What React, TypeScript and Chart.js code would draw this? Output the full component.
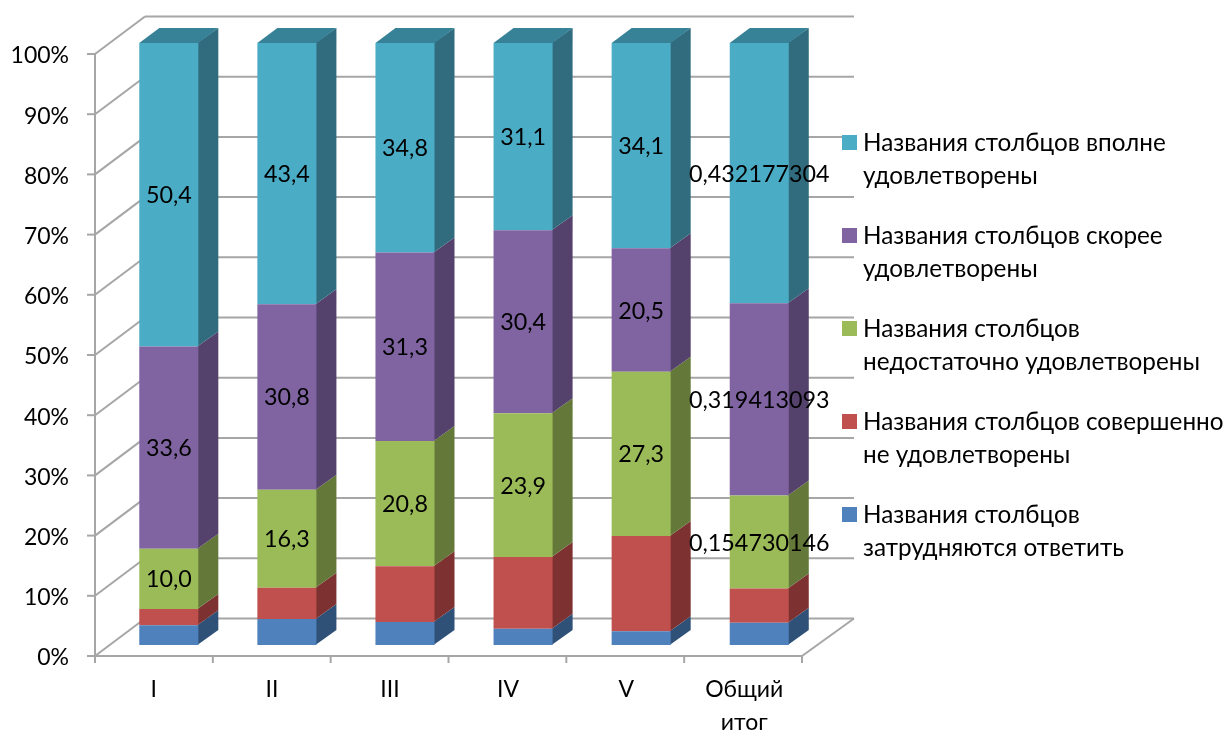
import React, { useEffect, useRef } from "react";
import { Chart, registerables } from "chart.js";

Chart.register(...registerables);

const categories = ["I", "II", "III", "IV", "V", ["Общий", "итог"]];
const hardToSay = [3.3, 4.3, 3.8, 2.7, 2.3, 3.7];
const notSatisfied = [2.7, 5.2, 9.3, 11.9, 15.8, 5.668];
const insufficient = [10.0, 16.3, 20.8, 23.9, 27.3, 15.4730146];
const ratherSatisfied = [33.6, 30.8, 31.3, 30.4, 20.5, 31.9413093];
const fullySatisfied = [50.4, 43.4, 34.8, 31.1, 34.1, 43.2177304];

const insufficientLabels = ["10,0", "16,3", "20,8", "23,9", "27,3", "0,154730146"];
const ratherLabels = ["33,6", "30,8", "31,3", "30,4", "20,5", "0,319413093"];
const fullyLabels = ["50,4", "43,4", "34,8", "31,1", "34,1", "0,432177304"];

const seriesNames = [
  "Названия столбцов затрудняются ответить",
  "Названия столбцов совершенно не удовлетворены",
  "Названия столбцов недостаточно удовлетворены",
  "Названия столбцов скорее удовлетворены",
  "Названия столбцов вполне удовлетворены",
];
const legendLines = [
  ["Названия столбцов вполне", "удовлетворены"],
  ["Названия столбцов скорее", "удовлетворены"],
  ["Названия столбцов", "недостаточно удовлетворены"],
  ["Названия столбцов совершенно", "не удовлетворены"],
  ["Названия столбцов", "затрудняются ответить"],
];

const front = ["#4F81BD", "#C0504D", "#9BBB59", "#8064A2", "#4BACC6"];
const side = ["#2F5178", "#7D3231", "#637839", "#54416C", "#316C7E"];
const topFace = "#388298";
const labelSets = [null, null, insufficientLabels, ratherLabels, fullyLabels];
const legendOrder = [4, 3, 2, 1, 0];

const FONT_FAMILY = "Lato, Carlito, 'Noto Sans', sans-serif";
const TICK_SIZE = 23;
const DATA_SIZE = 23.3;
const LEGEND_SIZE = 24.3;
const GRID = "#A6A6A6";

const scene = {
  id: "scene",
  beforeDatasetsDraw(chart: any) {
    const { ctx, scales } = chart;
    const y = scales.y;
    const axisLeft = 95, axisRight = 802, dropY = 11, wallDX = 50, wallDY = 37.5, backRight = 854;
    ctx.save();
    ctx.strokeStyle = GRID;
    ctx.lineWidth = 2;
    const line = (a: number, b: number, c: number, d: number) => {
      ctx.beginPath();
      ctx.moveTo(a, b);
      ctx.lineTo(c, d);
      ctx.stroke();
    };
    for (let v = 0; v <= 100; v += 10) {
      const py = y.getPixelForValue(v) + dropY;
      line(axisLeft + wallDX, py - wallDY, backRight, py - wallDY);
      line(axisLeft, py, axisLeft + wallDX, py - wallDY);
      line(axisLeft - 8, py, axisLeft, py);
    }
    const p0 = y.getPixelForValue(0) + dropY;
    const p100 = y.getPixelForValue(100) + dropY;
    line(axisLeft, p100, axisLeft, p0);
    line(axisLeft, p0, axisRight, p0);
    line(axisRight, p0, backRight, p0 - wallDY);
    for (let i = 0; i <= categories.length; i++) {
      const px = axisLeft + ((axisRight - axisLeft) * i) / categories.length;
      line(px, p0, px, p0 + 7);
    }
    // depth faces of the bars, built from the bar elements
    const dx = 20, dy = 15;
    const last = chart.data.datasets.length - 1;
    chart.data.datasets.forEach((_: any, di: number) => {
      chart.getDatasetMeta(di).data.forEach((bar: any) => {
        const { x, y: top, base, width } = bar.getProps(["x", "y", "base", "width"], true);
        const r = x + width / 2, l = x - width / 2;
        ctx.fillStyle = side[di];
        ctx.beginPath();
        ctx.moveTo(r - 1, base);
        ctx.lineTo(r + dx, base - dy);
        ctx.lineTo(r + dx, top - dy);
        ctx.lineTo(r - 1, top);
        ctx.closePath();
        ctx.fill();
        if (di === last) {
          ctx.fillStyle = topFace;
          ctx.beginPath();
          ctx.moveTo(l, top);
          ctx.lineTo(l + dx, top - dy);
          ctx.lineTo(r + dx, top - dy);
          ctx.lineTo(r, top);
          ctx.closePath();
          ctx.fill();
        }
      });
    });
    ctx.restore();
  },
  afterDatasetsDraw(chart: any) {
    const { ctx } = chart;
    ctx.save();
    ctx.font = `${DATA_SIZE}px ${FONT_FAMILY}`;
    ctx.fillStyle = "#000000";
    ctx.textAlign = "center";
    ctx.textBaseline = "middle";
    labelSets.forEach((set, di) => {
      if (!set) return;
      chart.getDatasetMeta(di).data.forEach((bar: any, i: number) => {
        const { x, y: top, base } = bar.getProps(["x", "y", "base"], true);
        ctx.fillText(set[i], x, (top + base) / 2 + 1);
      });
    });
    ctx.textAlign = "left";
    ctx.font = `${LEGEND_SIZE}px ${FONT_FAMILY}`;
    legendOrder.forEach((di, k) => {
      const boxY = 135 + k * 93;
      ctx.fillStyle = front[di];
      ctx.fillRect(842, boxY, 15, 15);
      ctx.fillStyle = "#000000";
      legendLines[k].forEach((text, j) => ctx.fillText(text, 863, boxY + 8 + j * 33));
    });
    ctx.restore();
  },
};

export default function App() {
  const ref = useRef<HTMLCanvasElement>(null);
  useEffect(() => {
    const chart = new Chart(ref.current as HTMLCanvasElement, {
      type: "bar",
      data: {
        labels: categories as any,
        datasets: [hardToSay, notSatisfied, insufficient, ratherSatisfied, fullySatisfied].map((data, i) => ({
          label: seriesNames[i],
          data,
          backgroundColor: front[i],
          borderWidth: 0,
          categoryPercentage: 0.5,
          barPercentage: 1,
        })),
      },
      options: {
        responsive: false,
        animation: false,
        layout: { padding: { left: 0, top: 43, right: 410.7, bottom: 0 } },
        plugins: { legend: { display: false }, tooltip: { enabled: false }, title: { display: false } },
        scales: {
          x: {
            stacked: true,
            grid: { display: false, drawTicks: false },
            border: { display: false },
            afterFit: (s: any) => { s.height = 86; s.paddingLeft = 0; s.paddingRight = 0; },
            ticks: {
              autoSkip: false,
              maxRotation: 0,
              minRotation: 0,
              labelOffset: -15,
              padding: 28,
              color: "#000000",
              font: { family: FONT_FAMILY, size: TICK_SIZE, lineHeight: 33 / TICK_SIZE },
            },
          },
          y: {
            stacked: true,
            min: 0,
            max: 100,
            grid: { display: false, drawTicks: false },
            border: { display: false },
            afterFit: (s: any) => { s.width = 109.75; s.paddingTop = 0; s.paddingBottom = 0; },
            ticks: {
              stepSize: 10,
              padding: 40.75,
              labelOffset: 13,
              color: "#000000",
              font: { family: FONT_FAMILY, size: TICK_SIZE },
              callback: (v: any) => `${v}%`,
            },
          },
        },
      },
      plugins: [scene],
    } as any);
    return () => chart.destroy();
  }, []);
  return (
    <div style={{ position: "absolute", left: 0, top: 0, width: 1229, height: 731, background: "#fff" }}>
      <canvas ref={ref} width={1229} height={731} style={{ display: "block" }} />
    </div>
  );
}
